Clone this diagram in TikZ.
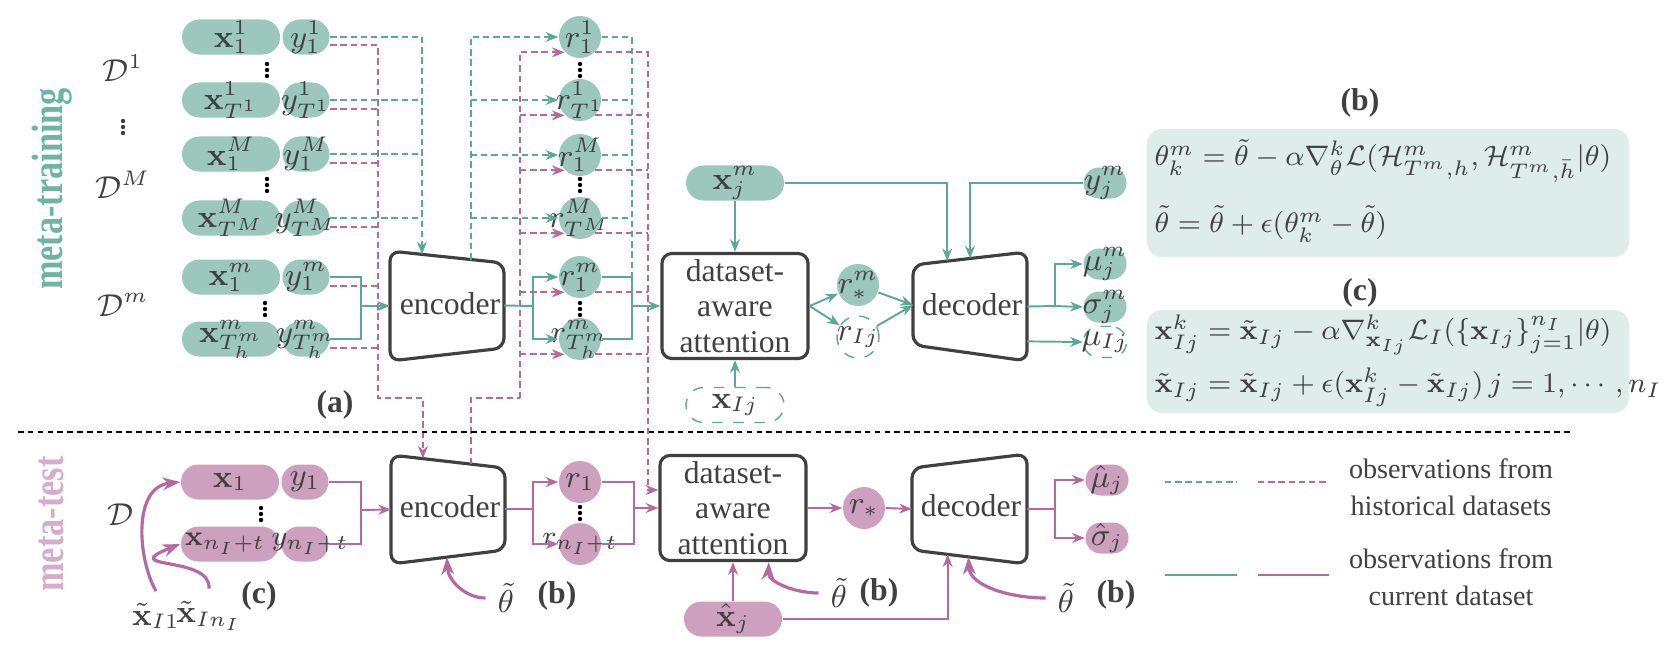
\documentclass[tikz,border=0pt]{standalone}
\usepackage[no-math]{fontspec}
\setmainfont{Liberation Serif}
\usepackage{amsmath}
\usepackage{amssymb}
\usetikzlibrary{arrows.meta,calc}

\definecolor{tealfill}{RGB}{155,199,188}
\definecolor{tealline}{RGB}{92,168,151}
\definecolor{tealtext}{RGB}{110,180,163}
\definecolor{tealbox}{RGB}{222,237,233}
\definecolor{magfill}{RGB}{205,160,191}
\definecolor{magline}{RGB}{182,104,160}
\definecolor{magtext}{RGB}{213,172,201}
\definecolor{inkgray}{RGB}{64,64,64}

\tikzset{
  intxt/.style={font=\fontsize{8.6}{9}\selectfont},
  xpill/.style={rounded corners=0.175cm, minimum width=0.98cm, minimum height=0.35cm, inner sep=0pt, label={[intxt]center:#1}},
  ypill/.style={rounded corners=0.175cm, minimum width=0.47cm, minimum height=0.35cm, inner sep=0pt, label={[intxt]center:#1}},
  opill/.style={rounded corners=0.155cm, minimum width=0.43cm, minimum height=0.31cm, inner sep=0pt, label={[intxt]center:#1}},
  rcirc/.style={circle, minimum size=0.42cm, inner sep=0pt, label={[intxt]center:#1}},
  tealln/.style={draw=tealline, line width=0.55pt},
  magln/.style={draw=magline, line width=0.55pt},
  tealdash/.style={tealln, dash pattern=on 1.8pt off 1.1pt},
  magdash/.style={magln, dash pattern=on 1.8pt off 1.1pt},
  arr/.style={-{Stealth[length=3.6pt,width=2.8pt]}},
  blkbox/.style={draw=inkgray, line width=0.9pt, rounded corners=0.1cm},
  attbox/.style={blkbox, minimum width=1.46cm, minimum height=1.05cm, align=center, inner sep=0pt},
  thbend/.style={draw=magline, line width=0.9pt, -{Stealth[length=5pt,width=3.6pt]}},
  eqtxt/.style={anchor=west, inner sep=0pt, font=\fontsize{8}{10}\selectfont},
  plabel/.style={font=\bfseries\fontsize{9}{10}\selectfont},
  sidetitle/.style={transform shape, font=\bfseries\fontsize{12.5}{14}\selectfont},
  vdts/.pic={\fill (0,-6) circle (0.022cm); \fill (0,0) circle (0.022cm); \fill (0,6) circle (0.022cm);},
}

\begin{document}
\begin{tikzpicture}[x=0.01cm, y=-0.01cm, font=\fontsize{9}{10}\selectfont, text=inkgray]
  \useasboundingbox (0,0) rectangle (1679,666);

  % side titles
  \begin{scope}[shift={(52,189)}, rotate=90, xscale=0.78]
    \node[sidetitle, text=tealtext] (mtrain) at (0,0) {meta-training};
  \end{scope}
  \begin{scope}[shift={(51,524)}, rotate=90, xscale=0.78]
    \node[sidetitle, text=magtext] (mtest) at (0,0) {meta-test};
  \end{scope}

  \node (d1) at (123,68) {$\mathcal{D}^1$};
  \pic[color=inkgray] at (123,127) {vdts};
  \node (dM) at (123,185) {$\mathcal{D}^M$};
  \node (dm) at (123,305) {$\mathcal{D}^m$};

  % encoders and decoders
  \coordinate (e1) at (390,251); \coordinate (e2) at (504,263);
  \coordinate (e3) at (504,348); \coordinate (e4) at (390,361);
  \coordinate (f1) at (391,455); \coordinate (f2) at (505,468);
  \coordinate (f3) at (505,550); \coordinate (f4) at (391,564);
  \coordinate (d1c) at (913,265); \coordinate (d2c) at (1027,252);
  \coordinate (d3c) at (1027,361); \coordinate (d4c) at (913,345);
  \coordinate (g1) at (912,468); \coordinate (g2) at (1027,454);
  \coordinate (g3) at (1027,564); \coordinate (g4) at (912,550);
  \draw[blkbox] (e1) -- (e2) -- (e3) -- (e4) -- cycle;
  \draw[blkbox] (f1) -- (f2) -- (f3) -- (f4) -- cycle;
  \draw[blkbox] (d1c) -- (d2c) -- (d3c) -- (d4c) -- cycle;
  \draw[blkbox] (g1) -- (g2) -- (g3) -- (g4) -- cycle;
  \node (enc) at (450,304) {encoder};
  \node (encT) at (450,507) {encoder};
  \node (dec) at (972,305) {decoder};
  \node (decT) at (971,506) {decoder};

  \coordinate (encin) at ($(e1)!0.28!(e2)$);
  \coordinate (encout) at ($(e1)!0.71!(e2)$);
  \coordinate (encW) at ($(e1)!0.5!(e4)$);
  \coordinate (encE) at ($(e2)!0.5!(e3)$);
  \coordinate (encTin) at ($(f1)!0.28!(f2)$);
  \coordinate (encTout) at ($(f1)!0.70!(f2)$);
  \coordinate (encTW) at ($(f1)!0.5!(f4)$);
  \coordinate (encTE) at ($(f2)!0.5!(f3)$);
  \coordinate (encTth) at ($(f4)!0.49!(f3)$);
  \coordinate (decin1) at ($(d1c)!0.3!(d2c)$);
  \coordinate (decin2) at ($(d1c)!0.5!(d2c)$);
  \coordinate (decW) at ($(d1c)!0.5!(d4c)$);
  \coordinate (decE) at ($(d2c)!0.5!(d3c)$);
  \coordinate (decE2) at ($(d2c)!0.82!(d3c)$);
  \coordinate (decTW) at ($(g1)!0.5!(g4)$);
  \coordinate (decTE) at ($(g2)!0.5!(g3)$);
  \coordinate (decTin) at ($(g4)!0.31!(g3)$);
  \coordinate (decTth) at ($(g4)!0.49!(g3)$);

  % meta-training data
  \node[xpill={$\mathbf{x}^1_1$}, fill=tealfill] (x11) at (231,37) {};
  \node[ypill={$y^1_1$}, fill=tealfill] (y11) at (306,37) {};
  \node[xpill={$\mathbf{x}^1_{T^1}$}, fill=tealfill] (x1T) at (231,100) {};
  \node[ypill={$y^1_{T^1}$}, fill=tealfill] (y1T) at (306,100) {};
  \node[xpill={$\mathbf{x}^M_1$}, fill=tealfill] (xM1) at (231,154) {};
  \node[ypill={$y^M_1$}, fill=tealfill] (yM1) at (306,154) {};
  \node[xpill={$\mathbf{x}^M_{T^M}$}, fill=tealfill] (xMT) at (231,218) {};
  \node[ypill={$y^M_{T^M}$}, fill=tealfill] (yMT) at (306,218) {};
  \node[xpill={$\mathbf{x}^m_1$}, fill=tealfill] (xm1) at (231,277) {};
  \node[ypill={$y^m_1$}, fill=tealfill] (ym1) at (306,277) {};
  \node[xpill={$\mathbf{x}^m_{T^m_h}$}, fill=tealfill] (xmT) at (231,339) {};
  \node[ypill={$y^m_{T^m_h}$}, fill=tealfill] (ymT) at (306,339) {};
  \pic at (267,70) {vdts};
  \pic at (267,185) {vdts};
  \pic at (265,309) {vdts};

  \draw[tealdash,arr] (y11.east) -| (encin);
  \draw[tealdash] (y1T.east) -- (y1T.east -| encin);
  \draw[tealdash] (yM1.east) -- (yM1.east -| encin);
  \draw[tealdash] (yMT.east) -- (yMT.east -| encin);
  \coordinate (mh1) at (378,398);
  \draw[magdash,arr] ($(y11.east)+(0,8)$) -| (mh1) -| (encTin);
  \draw[magdash] ($(y1T.east)+(0,9)$) -- ++(48,0);
  \draw[magdash] ($(yM1.east)+(0,9)$) -- ++(48,0);
  \draw[magdash] ($(yMT.east)+(0,9)$) -- ++(48,0);
  \draw[magdash] ($(ym1.east)+(0,9)$) -- ++(48,0);
  \draw[magdash] ($(ymT.east)+(0,9)$) -- ++(48,0);
  \coordinate (tj1) at (361,306);
  \draw[tealln] (ym1.east) -| (tj1) |- (ymT.east);
  \draw[tealln,arr] (tj1) -- (encW);

  % representations
  \node[rcirc={$r^1_1$}, fill=tealfill] (r11) at (580,37) {};
  \node[rcirc={$r^1_{T^1}$}, fill=tealfill] (r1T) at (580,100) {};
  \node[rcirc={$r^M_1$}, fill=tealfill] (rM1) at (580,155) {};
  \node[rcirc={$r^M_{T^M}$}, fill=tealfill] (rMT) at (580,218) {};
  \node[rcirc={$r^m_1$}, fill=tealfill] (rm1) at (580,277) {};
  \node[rcirc={$r^m_{T^m_h}$}, fill=tealfill] (rmT) at (580,339) {};
  \pic at (580,70) {vdts};
  \pic at (580,185) {vdts};
  \pic at (580,309) {vdts};

  \draw[tealdash,arr] (encout) |- (r11.west);
  \draw[tealdash,arr] (encout |- r1T) -- (r1T.west);
  \draw[tealdash,arr] (encout |- rM1) -- (rM1.west);
  \draw[tealdash,arr] (encout |- rMT) -- (rMT.west);
  \coordinate (tj2) at (533,306);
  \draw[tealln] (encE) -- (tj2);
  \draw[tealln,arr] (tj2) |- (rm1.west);
  \draw[tealln,arr] (tj2) |- (rmT.west);

  \coordinate (mt2) at (520,398);
  \draw[magdash] (encTout) |- (mt2);
  \draw[magdash,arr] (mt2) |- (r11.225);
  \draw[magdash,arr] (mt2 |- r1T.225) -- (r1T.225);
  \draw[magdash,arr] (mt2 |- rM1.225) -- (rM1.225);
  \draw[magdash,arr] (mt2 |- rMT.225) -- (rMT.225);
  \draw[magdash,arr] (mt2 |- rm1.225) -- (rm1.225);
  \draw[magdash,arr] (mt2 |- rmT.225) -- (rmT.225);

  % attention and decoder, meta-training
  \node[attbox] (att) at (735,306) {dataset-\\aware\\attention};
  \node[xpill={$\mathbf{x}^m_j$}, fill=tealfill] (xjm) at (735,183) {};
  \node[xpill={$\mathbf{x}_{Ij}$}, draw=tealline, dashed] (xIj) at (735,405) {};
  \node[opill={$y^m_j$}, fill=tealfill] (yjm) at (1105,183) {};
  \node[rcirc={$r^m_*$}, fill=tealfill] (rsm) at (858,285) {};
  \node[rcirc={$r_{Ij}$}, draw=tealline, dashed] (rIj) at (858,337) {};
  \node[opill={$\mu^m_j$}, fill=tealfill] (mujm) at (1105,264) {};
  \node[opill={$\sigma^m_j$}, fill=tealfill] (sigjm) at (1105,307) {};
  \node[opill={$\mu_{Ij}$}, draw=tealline, dashed] (muIj) at (1105,342) {};

  \coordinate (tj3) at (632,306);
  \draw[tealdash] (r11.east) -| (tj3);
  \draw[tealdash] (r1T.east) -- (r1T.east -| tj3);
  \draw[tealdash] (rM1.east) -- (rM1.east -| tj3);
  \draw[tealdash] (rMT.east) -- (rMT.east -| tj3);
  \draw[tealln] (rm1.east) -| (tj3) |- (rmT.east);
  \draw[tealln,arr] (tj3) -- (att.west);

  \draw[tealln,arr] (xjm) -- (att);
  \draw[tealln,arr] (xIj) -- (att);
  \draw[tealln,arr] (att.east) -- (rsm);
  \draw[tealln,arr] (att.east) -- (rIj);
  \draw[tealln,arr] (rsm) -- (decW);
  \draw[tealln,arr] (rIj) -- (decW);
  \draw[tealln,arr] (xjm.east) -| (decin1);
  \draw[tealln,arr] (yjm.west) -| (decin2);
  \coordinate (tj4) at (1055,306);
  \draw[tealln,arr] (decE) -- (tj4) |- (mujm.west);
  \draw[tealln,arr] (tj4) -- (sigjm.west);
  \draw[tealln,arr] (decE2) -- (muIj.west);

  \node[plabel] (la) at (335,405) {(a)};

  % update rules
  \node[plabel] (lb) at (1360,103) {(b)};
  \fill[tealbox, rounded corners=0.15cm] (1147,129) rectangle (1629,257);
  \node[eqtxt] (eqb1) at (1154,161) {$\theta^m_k = \tilde{\theta} - \alpha\nabla^k_\theta\mathcal{L}(\mathcal{H}^m_{T^m,h},\mathcal{H}^m_{T^m,\bar{h}}|\theta)$};
  \node[eqtxt] (eqb2) at (1154,224) {$\tilde{\theta} = \tilde{\theta} + \epsilon(\theta^m_k - \tilde{\theta})$};
  \node[plabel] (lc) at (1360,293) {(c)};
  \fill[tealbox, rounded corners=0.15cm] (1147,310) rectangle (1629,413);
  \node[eqtxt] (eqc1) at (1154,335) {$\mathbf{x}^k_{Ij} = \tilde{\mathbf{x}}_{Ij} - \alpha\nabla^k_{\mathbf{x}_{Ij}}\mathcal{L}_I(\{\mathbf{x}_{Ij}\}^{n_I}_{j=1}|\theta)$};
  \node[eqtxt] (eqc2) at (1154,387) {$\tilde{\mathbf{x}}_{Ij} = \tilde{\mathbf{x}}_{Ij} + \epsilon(\mathbf{x}^k_{Ij} - \tilde{\mathbf{x}}_{Ij})\,j = 1,\cdots,n_I$};

  % separator
  \coordinate (sepL) at (18,432); \coordinate (sepR) at (1573,432);
  \draw[black, line width=0.6pt, dash pattern=on 1.6pt off 1.2pt] (sepL) -- (sepR);

  % meta-test
  \node (dt) at (121,515) {$\mathcal{D}$};
  \node[xpill={$\mathbf{x}_1$}, fill=magfill] (x1t) at (230,482) {};
  \node[ypill={$y_1$}, fill=magfill] (y1t) at (305,482) {};
  \node[xpill={\hspace*{-0.1cm}\fontsize{8}{9}\selectfont$\mathbf{x}_{n_I+t}$}, fill=magfill] (xnt) at (230,544) {};
  \node[ypill={\hspace*{0.1cm}\fontsize{8}{9}\selectfont$y_{n_I+t}$}, fill=magfill] (ynt) at (305,544) {};
  \pic at (261,514) {vdts};
  \node (xt1) at (156,616) {$\tilde{\mathbf{x}}_{I1}$};
  \node (xt2) at (209,616) {$\tilde{\mathbf{x}}_{In_I}$};
  \node[plabel] (lc2) at (259,596) {(c)};
  \draw[thbend] (xt1.north) .. controls (138,560) and (132,487) .. (x1t.west);
  \draw[thbend] (xt2.north) .. controls (212,555) and (115,570) .. (xnt.west);

  \coordinate (mj1) at (361,510);
  \draw[magln] (y1t.east) -| (mj1) |- (ynt.east);
  \draw[magln,arr] (mj1) -- (encTW);
  \node (th1) at (506,598) {$\tilde{\theta}$};
  \node[plabel] (lb2) at (557,596) {(b)};
  \draw[thbend] (th1.west) .. controls (465,598) and (448,580) .. (encTth);

  \node[rcirc={$r_1$}, fill=magfill] (r1t) at (580,482) {};
  \node[rcirc={\fontsize{8}{9}\selectfont$r_{n_I+t}$}, fill=magfill] (rnt) at (580,544) {};
  \pic at (580,513) {vdts};
  \coordinate (mj2) at (533,509);
  \draw[magln] (encTE) -- (mj2);
  \draw[magln,arr] (mj2) |- (r1t.west);
  \draw[magln,arr] (mj2) |- (rnt.west);

  \node[attbox] (attT) at (733,508) {dataset-\\aware\\attention};
  \coordinate (mj4) at (634,508);
  \draw[magln] (r1t.east) -| (mj4) |- (rnt.east);
  \draw[magln,arr] (mj4) -- (attT.west);
  \coordinate (mj3) at (648,490);
  \draw[magdash,arr] (r11.-45) -| (mj3) -- (attT.west |- mj3);
  \draw[magdash] (r1T.-45) -- (r1T.-45 -| mj3);
  \draw[magdash] (rM1.-45) -- (rM1.-45 -| mj3);
  \draw[magdash] (rMT.-45) -- (rMT.-45 -| mj3);
  \draw[magdash] (rm1.-45) -- (rm1.-45 -| mj3);
  \draw[magdash] (rmT.-45) -- (rmT.-45 -| mj3);

  \node[rcirc={$r_*$}, fill=magfill] (rst) at (864,508) {};
  \draw[magln,arr] (attT.east) -- (rst.west);
  \draw[magln,arr] (rst.east) -- (decTW);
  \node[xpill={$\hat{\mathbf{x}}_j$}, fill=magfill] (xhat) at (733,619) {};
  \draw[magln,arr] (xhat) -- (attT);
  \draw[magln,arr] (xhat.east) -| (decTin);
  \coordinate (attTin) at ($(attT.south west)!0.74!(attT.south east)$);
  \node (th2) at (839,593) {$\tilde{\theta}$};
  \node[plabel] (lb3) at (879,593) {(b)};
  \draw[thbend] (th2.west) .. controls (795,593) and (768,582) .. (attTin);
  \node (th3) at (1066,598) {$\tilde{\theta}$};
  \node[plabel] (lb4) at (1116,595) {(b)};
  \draw[thbend] (th3.west) .. controls (1010,598) and (970,586) .. (decTth);

  \node[opill={$\hat{\mu}_j$}, fill=magfill] (mut) at (1107,480) {};
  \node[opill={$\hat{\sigma}_j$}, fill=magfill] (sigt) at (1107,538) {};
  \coordinate (mj5) at (1055,509);
  \draw[magln] (decTE) -- (mj5);
  \draw[magln,arr] (mj5) |- (mut.west);
  \draw[magln,arr] (mj5) |- (sigt.west);

  % legend
  \coordinate (lg1) at (1165,482); \coordinate (lg2) at (1237,482);
  \coordinate (lg3) at (1258,482); \coordinate (lg4) at (1329,482);
  \coordinate (lg5) at (1165,575); \coordinate (lg6) at (1237,575);
  \coordinate (lg7) at (1258,575); \coordinate (lg8) at (1329,575);
  \draw[tealdash] (lg1) -- (lg2);
  \draw[magdash] (lg3) -- (lg4);
  \draw[tealln] (lg5) -- (lg6);
  \draw[magln] (lg7) -- (lg8);
  \node[align=center, font=\fontsize{8}{10.5}\selectfont] (lgh) at (1451,487) {observations from\\historical datasets};
  \node[align=center, font=\fontsize{8}{10.5}\selectfont] (lgc) at (1451,577) {observations from\\current dataset};
\end{tikzpicture}
\end{document}
